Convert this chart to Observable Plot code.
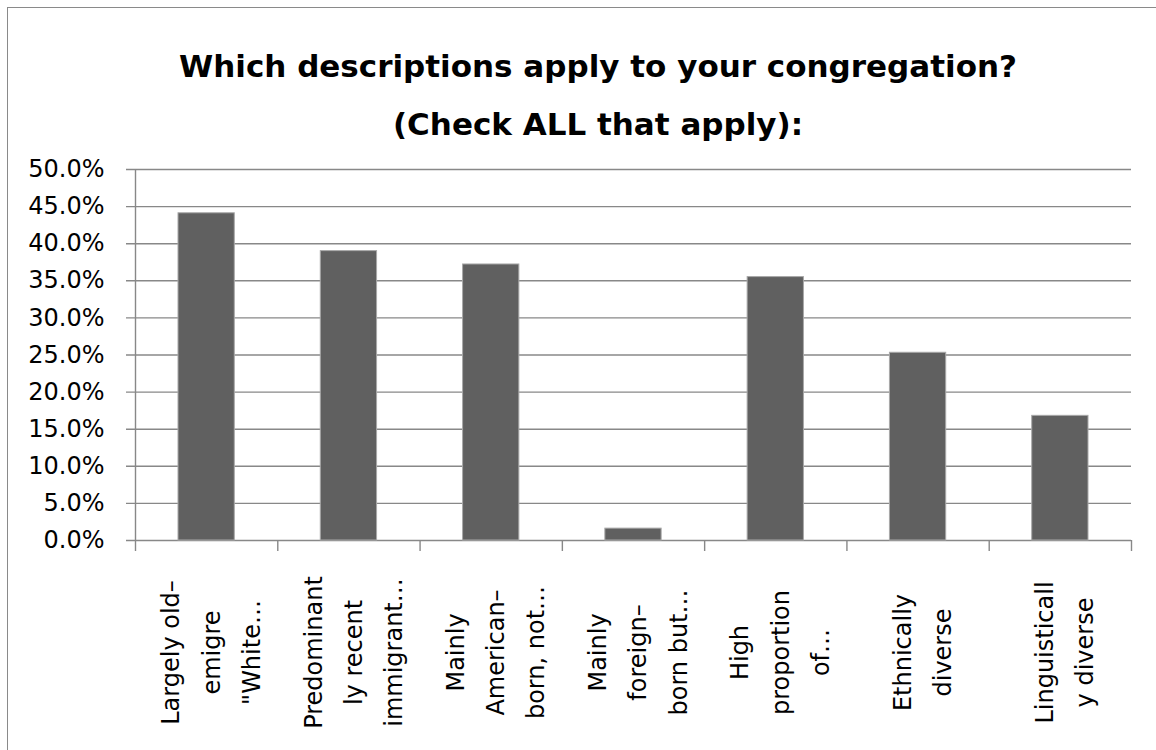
<!DOCTYPE html>
<html><head><meta charset="utf-8">
<script src="https://cdn.jsdelivr.net/npm/d3@7"></script>
<script src="https://cdn.jsdelivr.net/npm/@observablehq/plot@0.6"></script>
<style>
html,body{margin:0;padding:0;background:#fff;overflow:hidden;width:1156px;height:750px}
#frame{position:absolute;left:7px;top:7px;width:1300px;height:900px;border:1.5px solid #8a8a8a;box-sizing:border-box}
#title{position:absolute;left:0;top:37px;width:1196px;text-align:center;font-family:"DejaVu Sans";font-weight:bold;font-size:31px;line-height:58px;color:#000}
#chart{position:absolute;left:0;top:150px}
</style>
</head><body>
<div id="frame"></div>
<div id="title">Which descriptions apply to your congregation?<br>(Check ALL that apply):</div>
<div id="chart"></div>
<script>
const categories = [
  "Largely old–\nemigre\n\"White…",
  "Predominant\nly recent\nimmigrant…",
  "Mainly\nAmerican–\nborn, not…",
  "Mainly\nforeign–\nborn but…",
  "High\nproportion\nof…",
  "Ethnically\ndiverse",
  "Linguisticall\ny diverse"
];
const values = [44.1, 39.0, 37.2, 1.6, 35.5, 25.3, 16.8];
const yTicks = [0, 5, 10, 15, 20, 25, 30, 35, 40, 45, 50];
const xBoundaries = d3.range(0, categories.length + 1);

const data = categories.map((label, i) => ({i, label, value: values[i]}));

const chart = Plot.plot({
  width: 1156,
  height: 600,
  marginTop: 19,
  marginBottom: 210,
  marginLeft: 135,
  marginRight: 25,
  style: {fontFamily: "DejaVu Sans", fontSize: "24px", color: "#000", background: "transparent", overflow: "visible"},
  x: {domain: [0, categories.length], axis: null},
  y: {domain: [0, 50], axis: null},
  marks: [
    Plot.ruleY(yTicks, {stroke: "#888", strokeWidth: 1.4, insetLeft: -9}),
    Plot.ruleX([0], {stroke: "#888", strokeWidth: 1.4}),
    Plot.axisX({ticks: xBoundaries, tickSize: 11, tickFormat: () => "", stroke: "#888", strokeWidth: 1.4, label: null}),
    Plot.axisY({ticks: yTicks, tickSize: 0, tickPadding: 31, tickFormat: d => d.toFixed(1) + "%", fill: "#000", fontSize: 24, label: null}),
    Plot.rectY(data, {x1: "i", x2: d => d.i + 1, y: "value", insetLeft: 43, insetRight: 43, fill: "#606060", stroke: "#a8a8a8", strokeWidth: 1}),
    Plot.text(data, {x: d => d.i + 0.5, y: () => 0, text: "label", rotate: -90, textAnchor: "middle", lineAnchor: "middle", lineHeight: 1.68, dy: 112, fontSize: 24, fill: "#000"})
  ]
});
document.getElementById("chart").appendChild(chart);
</script>
</body></html>
